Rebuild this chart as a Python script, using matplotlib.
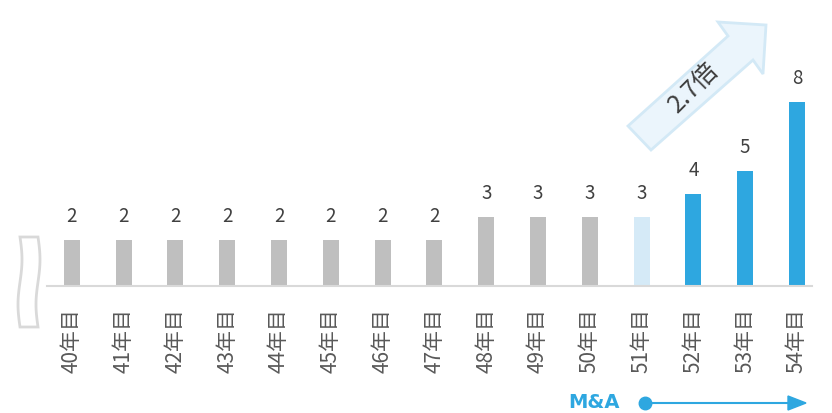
import matplotlib.pyplot as plt
import numpy as np
from matplotlib.patches import Polygon

plt.rcParams["font.family"] = ["Noto Sans CJK JP", "DejaVu Sans"]

# data
years = [f"{n}年目" for n in range(40, 55)]
values = [2, 2, 2, 2, 2, 2, 2, 2, 3, 3, 3, 3, 4, 5, 8]
gray = "#bfbfbf"
pale = "#d5eaf7"
blue = "#2ea7e0"
bar_colors = [gray] * 11 + [pale] + [blue] * 3
ratio_text = "2.7倍"
ma_text = "M&A"

W, H = 832, 414
fig = plt.figure(figsize=(W / 100, H / 100), dpi=100)
ax = fig.add_axes([47 / W, (H - 287) / H, 765 / W, 12 * 23 / H])

x = np.arange(len(values))
ax.bar(x, values, width=0.31, color=bar_colors, zorder=2)
for xi, v in zip(x, values):
    ax.annotate(str(v), (xi, v), xytext=(0, 10), textcoords="offset points",
                ha="center", va="bottom", fontsize=13.5, color="#404040")

ax.set_xlim(-0.48, 14.29)
ax.set_ylim(0, 12)
ax.set_xticks(x)
ax.set_xticklabels(years, rotation=90, fontsize=15, color="#595959")
ax.tick_params(axis="x", length=0, pad=15)
ax.set_yticks([])
for s in ["top", "right", "left"]:
    ax.spines[s].set_visible(False)
ax.spines["bottom"].set_color("#d9d9d9")
ax.spines["bottom"].set_linewidth(1.5)


def fig_pts(pts):
    return [(px / W, 1 - py / H) for px, py in pts]


# big growth arrow
arrow_pts = [(628, 127), (728, 37), (718, 23), (766, 26), (763, 75),
             (753, 61), (651, 151)]
fig.patches.append(Polygon(fig_pts(arrow_pts), closed=True, transform=fig.transFigure,
                           facecolor="#ebf5fc", edgecolor="#d3e9f6", linewidth=2))
fig.text(694 / W, 1 - 88 / H, ratio_text, rotation=45, ha="center", va="center",
         fontsize=18, color="#404040")

# axis break mark (wavy strip)
t = np.linspace(0, 1, 40)
wave = 2 * np.sin(2 * np.pi * t)
ys = 238 + 90 * t
pts = list(zip(20 + wave, ys)) + list(zip((38 + wave)[::-1], ys[::-1]))
fig.patches.append(Polygon(fig_pts(pts), closed=True, transform=fig.transFigure,
                           facecolor="white", edgecolor="#d9d9d9", linewidth=2))

# M&A timeline arrow
fig.text(594 / W, 1 - 403 / H, ma_text, ha="center", va="center", fontsize=14,
         fontweight="bold", color=blue, family=["DejaVu Sans"])
fig.add_artist(plt.Line2D([645 / W, 790 / W], [1 - 404 / H] * 2, color=blue, lw=1.5))
fig.add_artist(plt.Line2D([645 / W], [1 - 404 / H], marker="o", markersize=9,
                          color=blue))
fig.patches.append(Polygon(fig_pts([(788, 397), (806, 404), (788, 411)]), closed=True,
                           transform=fig.transFigure, color=blue))

fig.savefig("out.png", dpi=100)
